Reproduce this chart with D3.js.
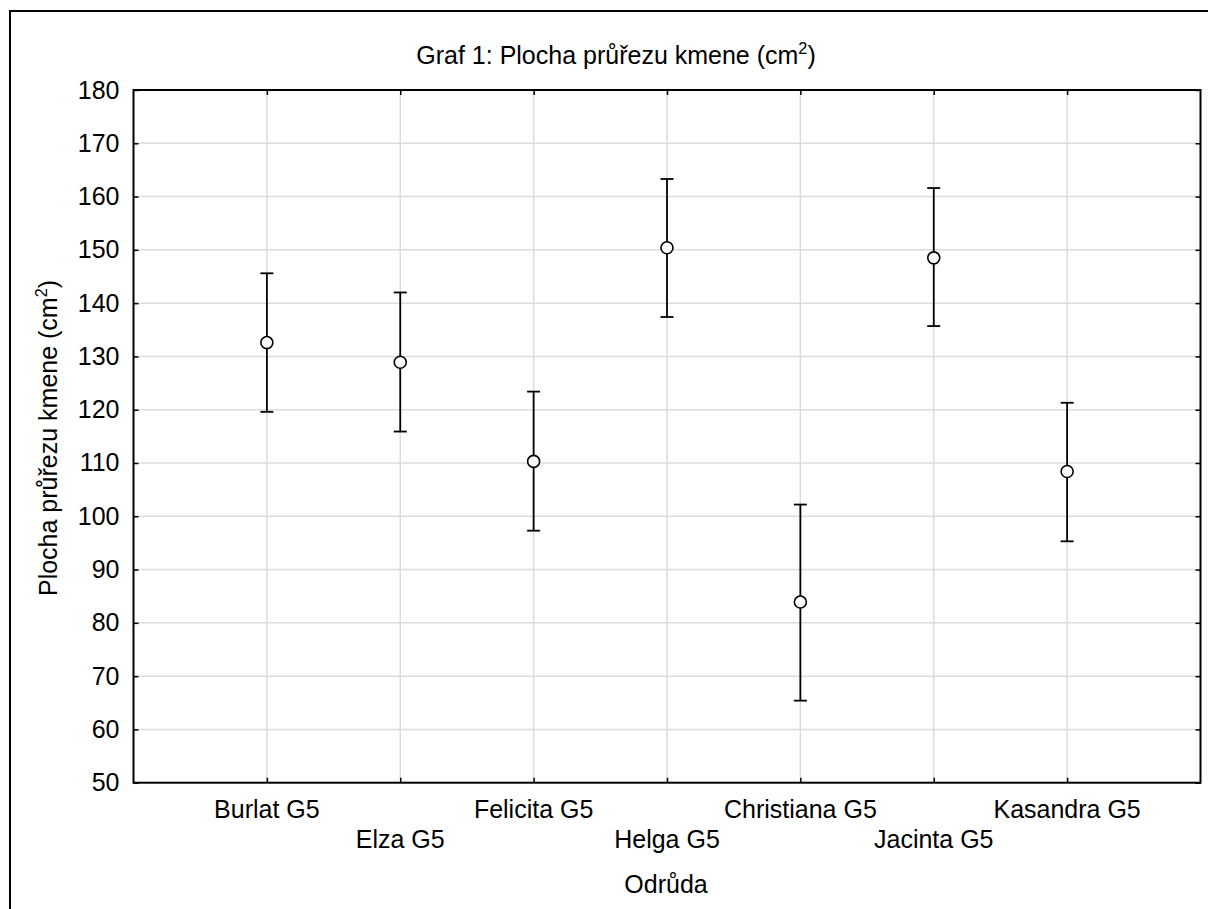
<!DOCTYPE html>
<html>
<head>
<meta charset="utf-8">
<script src="https://cdn.jsdelivr.net/npm/d3@7"></script>
<style>
  html, body { margin: 0; padding: 0; background: #fff; }
  svg { display: block; font-family: "Liberation Sans", Arial, sans-serif; }
</style>
</head>
<body>
<svg id="chart" width="1208" height="909"></svg>
<script>
const categories = ["Burlat G5", "Elza G5", "Felicita G5", "Helga G5", "Christiana G5", "Jacinta G5", "Kasandra G5"];
const means = [132.6, 128.9, 110.3, 150.4, 83.9, 148.5, 108.4];
const upper = [145.6, 142.0, 123.4, 163.3, 102.2, 161.6, 121.3];
const lower = [119.6, 115.9, 97.3, 137.4, 65.4, 135.7, 95.3];
const yTicks = [50, 60, 70, 80, 90, 100, 110, 120, 130, 140, 150, 160, 170, 180];

const svg = d3.select("#chart");
const L = 133.5, R = 1200.5, T = 90, B = 782.7;
const fs = 25;

const x = d3.scalePoint().domain(categories).range([L, R]).padding(1);
const y = d3.scaleLinear().domain([50, 180]).range([B, T]);

// outer border
svg.append("rect").attr("x", 10).attr("y", 11).attr("width", 1300).attr("height", 1000)
  .attr("fill", "none").attr("stroke", "#000").attr("stroke-width", 2);

// gridlines
const grid = svg.append("g");
grid.selectAll("line.h").data(yTicks.slice(1, -1)).join("line")
  .attr("x1", L).attr("x2", R).attr("y1", d => y(d)).attr("y2", d => y(d))
  .attr("stroke", "#dcdcdc").attr("stroke-width", 1.5);
grid.selectAll("line.v").data(categories).join("line")
  .attr("y1", T).attr("y2", B).attr("x1", d => x(d)).attr("x2", d => x(d))
  .attr("stroke", "#dcdcdc").attr("stroke-width", 1.5);

// axes with inward ticks
const yAxis = d3.axisLeft(y).tickValues(yTicks).tickSize(-5).tickPadding(14).tickFormat(d3.format("d"));
const gy = svg.append("g").attr("transform", `translate(${L},0)`).call(yAxis);
const gyr = svg.append("g").attr("transform", `translate(${R},0)`).call(d3.axisRight(y).tickValues(yTicks).tickSize(-5).tickFormat(""));
const gxb = svg.append("g").attr("transform", `translate(0,${B})`).call(d3.axisBottom(x).tickSize(-5).tickFormat(""));
const gxt = svg.append("g").attr("transform", `translate(0,${T})`).call(d3.axisTop(x).tickSize(-5).tickFormat(""));
[gy, gyr, gxb, gxt].forEach(g => {
  g.select(".domain").remove();
  g.selectAll(".tick line").attr("stroke", "#000").attr("stroke-width", 1.5);
});
gy.selectAll(".tick text").attr("font-size", fs).attr("fill", "#000")
  .attr("font-family", "Liberation Sans, Arial, sans-serif");

// frame
svg.append("rect").attr("x", L).attr("y", T).attr("width", R - L).attr("height", B - T)
  .attr("fill", "none").attr("stroke", "#000").attr("stroke-width", 2);

// x category labels, staggered
svg.append("g").selectAll("text").data(categories).join("text")
  .attr("x", d => x(d))
  .attr("y", (d, i) => i % 2 === 0 ? 818 : 848)
  .attr("text-anchor", "middle").attr("font-size", fs).attr("fill", "#000")
  .text(d => d);

// error bars
const capW = 6.5;
const eb = svg.append("g").attr("stroke", "#000").attr("stroke-width", 1.8).attr("fill", "none");
categories.forEach((c, i) => {
  const cx = x(c);
  eb.append("line").attr("x1", cx).attr("x2", cx).attr("y1", y(upper[i])).attr("y2", y(lower[i]));
  eb.append("line").attr("x1", cx - capW).attr("x2", cx + capW).attr("y1", y(upper[i])).attr("y2", y(upper[i]));
  eb.append("line").attr("x1", cx - capW).attr("x2", cx + capW).attr("y1", y(lower[i])).attr("y2", y(lower[i]));
});
svg.append("g").selectAll("circle").data(categories).join("circle")
  .attr("cx", d => x(d)).attr("cy", (d, i) => y(means[i])).attr("r", 6)
  .attr("fill", "#fff").attr("stroke", "#000").attr("stroke-width", 1.6);

// title
const title = svg.append("text").attr("x", 616).attr("y", 64).attr("text-anchor", "middle")
  .attr("font-size", fs).attr("fill", "#000");
title.append("tspan").text("Graf 1: Plocha průřezu kmene (cm");
title.append("tspan").attr("font-size", fs * 0.65).attr("dy", -10).text("2");
title.append("tspan").attr("dy", 10).text(")");

// y axis title
const yt = svg.append("text").attr("transform", `translate(57,438) rotate(-90)`)
  .attr("text-anchor", "middle").attr("font-size", fs).attr("fill", "#000");
yt.append("tspan").text("Plocha průřezu kmene (cm");
yt.append("tspan").attr("font-size", fs * 0.65).attr("dy", -10).text("2");
yt.append("tspan").attr("dy", 10).text(")");

// x axis title
svg.append("text").attr("x", 666).attr("y", 893).attr("text-anchor", "middle")
  .attr("font-size", fs).attr("fill", "#000").text("Odrůda");
</script>
</body>
</html>
